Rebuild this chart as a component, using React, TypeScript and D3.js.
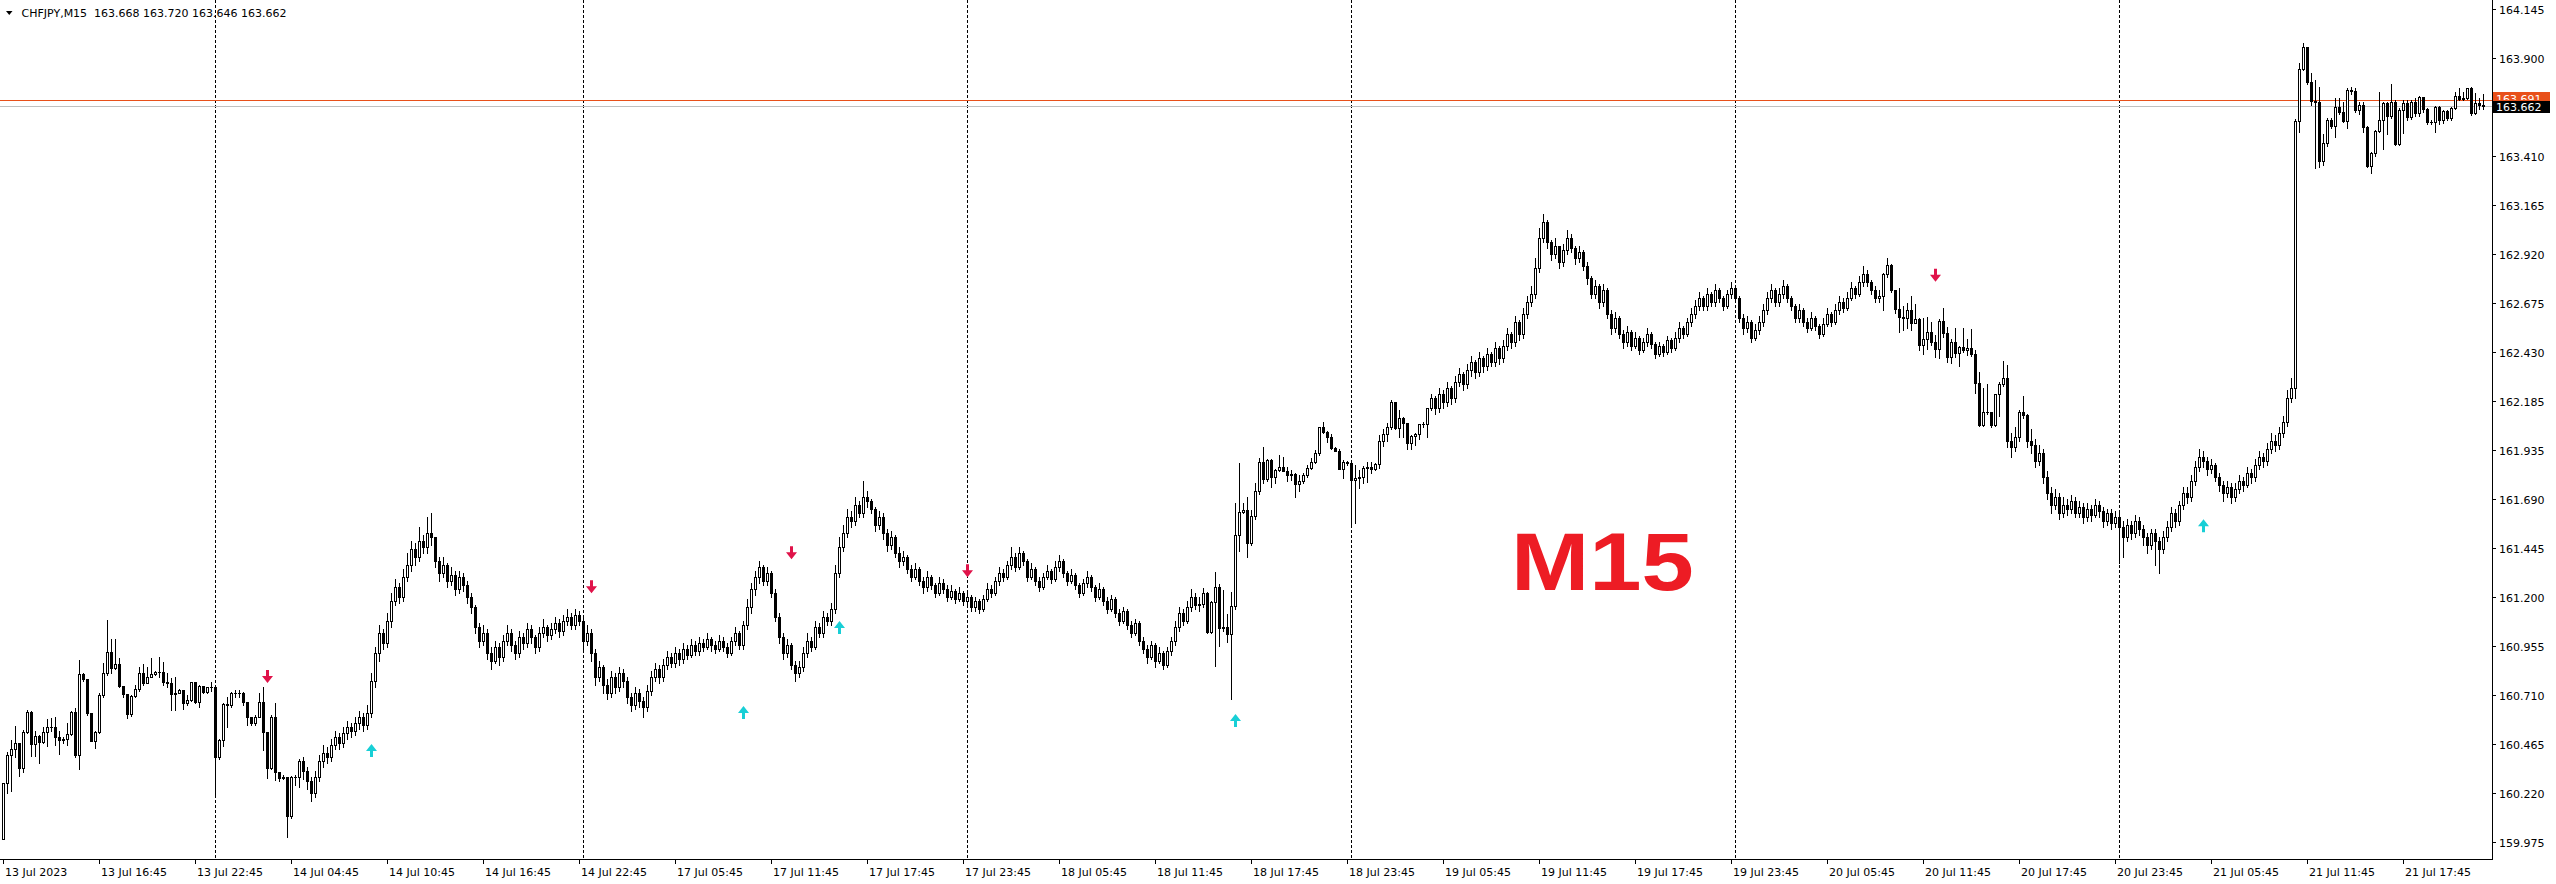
import React from "react";
import * as d3 from "d3";

const W = 2556;
const H = 884;
const PLOT_RIGHT = 2492;
const AXIS_Y = 859;

const SYMBOL = "CHFJPY,M15";
const HEADER_OHLC = ["163.668", "163.720", "163.646", "163.662"];
const WATERMARK = "M15";
const ASK = 163.691;
const BID = 163.662;

// Forex candles: each open equals the previous close
const FIRST_OPEN = 159.99;

const closes = [
  160.27, 160.409, 160.437, 160.467, 160.342, 160.523, 160.624, 160.462, 160.504, 160.476,
  160.526, 160.548, 160.551, 160.501, 160.484, 160.487, 160.513, 160.623, 160.407, 160.813,
  160.788, 160.618, 160.477, 160.526, 160.71, 160.818, 160.927, 160.843, 160.863, 160.755,
  160.713, 160.614, 160.706, 160.738, 160.818, 160.771, 160.801, 160.813, 160.823, 160.826,
  160.776, 160.768, 160.713, 160.721, 160.735, 160.668, 160.685, 160.773, 160.676, 160.755,
  160.726, 160.748, 160.748, 160.401, 160.484, 160.663, 160.66, 160.721, 160.721, 160.721,
  160.676, 160.6, 160.568, 160.6, 160.676, 160.523, 160.345, 160.6, 160.322, 160.292,
  160.3, 160.105, 160.3, 160.3, 160.38, 160.33, 160.28, 160.22, 160.30, 160.38,
  160.42, 160.40, 160.46, 160.50, 160.47, 160.52, 160.55, 160.53, 160.57, 160.60,
  160.56, 160.62, 160.78, 160.92, 161.02, 160.97, 161.08, 161.18, 161.25, 161.20,
  161.30, 161.36, 161.44, 161.40, 161.48, 161.45, 161.52, 161.50, 161.38, 161.32,
  161.36, 161.28, 161.31, 161.24, 161.30, 161.26, 161.20, 161.15, 161.05, 160.98,
  161.02, 160.92, 160.88, 160.95, 160.90, 160.98, 161.02, 160.96, 160.92, 161.00,
  160.97, 161.04, 161.00, 160.95, 161.02, 161.05, 161.01, 161.04, 161.07, 161.03,
  161.08, 161.10, 161.06, 161.11, 161.08, 160.98, 161.02, 160.92, 160.80, 160.85,
  160.76, 160.72, 160.80, 160.75, 160.82, 160.78, 160.70, 160.66, 160.72, 160.68,
  160.65, 160.73, 160.80, 160.84, 160.80, 160.86, 160.90, 160.87, 160.92, 160.89,
  160.94, 160.91, 160.96, 160.93, 160.97, 160.95, 160.99, 160.96, 160.94, 160.98,
  160.95, 160.92, 160.98, 161.02, 160.96, 161.06, 161.15, 161.24, 161.30, 161.35,
  161.28, 161.32, 161.22, 161.10, 161.00, 160.92, 160.96, 160.86, 160.82, 160.85,
  160.92, 160.98, 160.95, 161.05, 161.02, 161.10, 161.08, 161.14, 161.32, 161.45,
  161.52, 161.60, 161.58, 161.66, 161.62, 161.70, 161.68, 161.64, 161.56, 161.60,
  161.52, 161.46, 161.50, 161.42, 161.38, 161.40, 161.34, 161.30, 161.34, 161.28,
  161.25, 161.30, 161.26, 161.22, 161.27, 161.24, 161.20, 161.23, 161.19, 161.22,
  161.18, 161.20, 161.15, 161.18, 161.14, 161.19, 161.24, 161.22, 161.28, 161.32,
  161.30, 161.36, 161.40, 161.35, 161.42, 161.38, 161.30, 161.34, 161.28, 161.25,
  161.30, 161.33, 161.29, 161.35, 161.38, 161.32, 161.28, 161.31, 161.26, 161.22,
  161.27, 161.30, 161.25, 161.20, 161.24, 161.18, 161.14, 161.19, 161.12, 161.08,
  161.13, 161.06, 161.02, 161.07, 160.98, 160.94, 160.90, 160.96, 160.88, 160.92,
  160.86, 160.93, 160.98, 161.05, 161.12, 161.08, 161.15, 161.20, 161.16, 161.165,
  161.219, 161.027, 161.177, 161.249, 161.047, 161.052, 161.013, 161.157, 161.511, 161.625,
  161.636, 161.47, 161.606, 161.732, 161.875, 161.79, 161.887, 161.803, 161.837, 161.854,
  161.834, 161.812, 161.817, 161.765, 161.782, 161.812, 161.845, 161.875, 161.92, 162.05,
  162.029, 162.004, 161.949, 161.934, 161.842, 161.875, 161.874, 161.787, 161.798, 161.803,
  161.845, 161.853, 161.84, 161.867, 161.984, 162.015, 162.05, 162.179, 162.046, 162.096,
  162.071, 161.974, 162.007, 162.015, 162.067, 162.07, 162.146, 162.20, 162.15, 162.22,
  162.18, 162.25, 162.20, 162.28, 162.32, 162.27, 162.34, 162.38, 162.33, 162.40,
  162.36, 162.42, 162.38, 162.45, 162.40, 162.46, 162.52, 162.48, 162.58, 162.52,
  162.62, 162.68, 162.72, 162.85, 163.00, 163.08, 162.98, 162.92, 162.96, 162.88,
  162.94, 163.00, 162.95, 162.90, 162.93, 162.86, 162.80, 162.72, 162.76, 162.68,
  162.74, 162.62, 162.55, 162.60, 162.52, 162.48, 162.53, 162.46, 162.50, 162.44,
  162.48, 162.52, 162.47, 162.42, 162.46, 162.43, 162.49, 162.45, 162.50, 162.55,
  162.52, 162.58, 162.62, 162.66, 162.70, 162.66, 162.72, 162.68, 162.74, 162.70,
  162.66, 162.72, 162.75, 162.70, 162.60, 162.55, 162.58, 162.50, 162.54, 162.58,
  162.64, 162.70, 162.74, 162.68, 162.72, 162.76, 162.70, 162.66, 162.60, 162.64,
  162.58, 162.55, 162.60, 162.56, 162.52, 162.57, 162.62, 162.58, 162.64, 162.68,
  162.65, 162.70, 162.75, 162.72, 162.78, 162.82, 162.78, 162.74, 162.70, 162.71,
  162.819, 162.864, 162.739, 162.643, 162.605, 162.60, 162.638, 162.575, 162.592, 162.463,
  162.493, 162.528, 162.48, 162.443, 162.585, 162.522, 162.405, 162.477, 162.421, 162.451,
  162.438, 162.446, 162.416, 162.274, 162.062, 162.129, 162.13, 162.062, 162.216, 162.268,
  162.296, 161.98, 161.95, 162.00, 162.129, 162.112, 161.98, 161.96, 161.88, 161.92,
  161.80, 161.72, 161.66, 161.70, 161.62, 161.66, 161.64, 161.68, 161.62, 161.65,
  161.60, 161.64, 161.61, 161.66, 161.63, 161.58, 161.62, 161.57, 161.60, 161.55,
  161.50, 161.56, 161.52, 161.58, 161.54, 161.50, 161.46, 161.52, 161.48, 161.44,
  161.50, 161.55, 161.62, 161.58, 161.66, 161.72, 161.70, 161.78, 161.85, 161.90,
  161.88, 161.84, 161.86, 161.80, 161.76, 161.72, 161.75, 161.70, 161.74, 161.78,
  161.76, 161.82, 161.80, 161.86, 161.90, 161.88, 161.94, 161.98, 161.96, 162.02,
  162.08, 162.20, 162.25, 163.587, 163.844, 163.954, 163.782, 163.687, 163.682, 163.387,
  163.474, 163.59, 163.56, 163.657, 163.632, 163.587, 163.74, 163.735, 163.64, 163.665,
  163.553, 163.36, 163.423, 163.537, 163.59, 163.674, 163.61, 163.682, 163.47, 163.64,
  163.674, 163.607, 163.682, 163.623, 163.707, 163.645, 163.582, 163.582, 163.654, 163.59,
  163.637, 163.6, 163.65, 163.71, 163.697, 163.699, 163.749, 163.624, 163.677, 163.668,
  163.662,
];

const highs = [
  160.27, 160.426, 160.484, 160.554, 160.47, 160.534, 160.634, 160.629, 160.529, 160.509,
  160.551, 160.589, 160.593, 160.598, 160.529, 160.50, 160.571, 160.629, 160.643, 160.885,
  160.821, 160.79, 160.62, 160.53, 160.72, 160.872, 161.085, 160.988, 160.988, 160.893,
  160.755, 160.713, 160.71, 160.76, 160.852, 160.865, 160.852, 160.893, 160.83, 160.898,
  160.877, 160.821, 160.793, 160.801, 160.74, 160.735, 160.71, 160.776, 160.773, 160.76,
  160.755, 160.751, 160.776, 160.751, 160.49, 160.668, 160.701, 160.726, 160.735, 160.735,
  160.723, 160.676, 160.6, 160.61, 160.721, 160.751, 160.523, 160.609, 160.668, 160.322,
  160.31, 160.3, 160.305, 160.31, 160.39, 160.40, 160.35, 160.30, 160.33, 160.41,
  160.46, 160.45, 160.49, 160.53, 160.52, 160.55, 160.58, 160.57, 160.60, 160.63,
  160.62, 160.66, 160.82, 160.95, 161.06, 161.04, 161.12, 161.22, 161.29, 161.27,
  161.34, 161.42, 161.48, 161.47, 161.55, 161.51, 161.60, 161.62, 161.50, 161.40,
  161.40, 161.37, 161.35, 161.33, 161.33, 161.32, 161.28, 161.22, 161.16, 161.07,
  161.06, 161.04, 160.95, 160.98, 160.97, 161.01, 161.06, 161.04, 160.98, 161.03,
  161.02, 161.07, 161.06, 161.01, 161.05, 161.09, 161.06, 161.07, 161.10, 161.09,
  161.11, 161.14, 161.12, 161.14, 161.13, 161.10, 161.06, 161.04, 160.94, 160.88,
  160.86, 160.79, 160.83, 160.82, 160.85, 160.84, 160.80, 160.72, 160.75, 160.74,
  160.70, 160.76, 160.83, 160.87, 160.86, 160.89, 160.93, 160.92, 160.95, 160.94,
  160.97, 160.96, 160.99, 160.98, 161.00, 160.99, 161.02, 161.00, 160.98, 161.01,
  161.00, 160.97, 161.00, 161.05, 161.03, 161.08, 161.19, 161.27, 161.33, 161.38,
  161.36, 161.35, 161.33, 161.24, 161.12, 161.02, 160.99, 160.97, 160.88, 160.88,
  160.95, 161.02, 161.00, 161.08, 161.07, 161.13, 161.12, 161.17, 161.36, 161.50,
  161.56, 161.64, 161.63, 161.70, 161.68, 161.78, 161.73, 161.69, 161.65, 161.63,
  161.62, 161.54, 161.53, 161.51, 161.45, 161.43, 161.41, 161.36, 161.37, 161.35,
  161.30, 161.33, 161.31, 161.27, 161.30, 161.29, 161.26, 161.26, 161.24, 161.25,
  161.23, 161.23, 161.21, 161.20, 161.19, 161.21, 161.27, 161.26, 161.30, 161.35,
  161.34, 161.38, 161.45, 161.42, 161.45, 161.43, 161.39, 161.37, 161.35, 161.30,
  161.32, 161.36, 161.34, 161.38, 161.41, 161.39, 161.33, 161.34, 161.32, 161.27,
  161.29, 161.33, 161.31, 161.26, 161.27, 161.25, 161.20, 161.21, 161.20, 161.14,
  161.15, 161.14, 161.08, 161.09, 161.08, 161.00, 160.96, 160.98, 160.97, 160.95,
  160.93, 160.95, 161.00, 161.08, 161.15, 161.14, 161.18, 161.24, 161.22, 161.20,
  161.244, 161.227, 161.18, 161.324, 161.266, 161.236, 161.115, 161.224, 161.67, 161.87,
  161.67, 161.70, 161.636, 161.77, 161.895, 161.95, 161.89, 161.89, 161.84, 161.912,
  161.90, 161.854, 161.837, 161.82, 161.812, 161.82, 161.862, 161.895, 161.937, 162.05,
  162.076, 162.03, 162.015, 161.954, 161.94, 161.887, 161.884, 161.88, 161.862, 161.837,
  161.858, 161.875, 161.875, 161.87, 162.012, 162.041, 162.071, 162.19, 162.18, 162.138,
  162.104, 162.075, 162.01, 162.02, 162.07, 162.08, 162.15, 162.22, 162.21, 162.25,
  162.24, 162.28, 162.26, 162.31, 162.35, 162.33, 162.37, 162.41, 162.39, 162.43,
  162.41, 162.45, 162.43, 162.48, 162.46, 162.49, 162.55, 162.53, 162.61, 162.59,
  162.65, 162.71, 162.76, 162.90, 163.05, 163.12, 163.09, 162.99, 163.00, 162.96,
  162.97, 163.04, 163.02, 162.96, 162.96, 162.94, 162.88, 162.81, 162.79, 162.77,
  162.77, 162.75, 162.64, 162.63, 162.61, 162.54, 162.56, 162.54, 162.53, 162.51,
  162.50, 162.55, 162.53, 162.48, 162.48, 162.47, 162.51, 162.50, 162.53, 162.58,
  162.56, 162.60, 162.65, 162.69, 162.73, 162.71, 162.75, 162.73, 162.77, 162.75,
  162.71, 162.74, 162.78, 162.76, 162.71, 162.62, 162.61, 162.59, 162.57, 162.61,
  162.67, 162.73, 162.77, 162.75, 162.75, 162.79, 162.77, 162.71, 162.67, 162.67,
  162.65, 162.60, 162.63, 162.61, 162.57, 162.60, 162.65, 162.63, 162.67, 162.71,
  162.70, 162.73, 162.78, 162.76, 162.81, 162.86, 162.84, 162.79, 162.76, 162.74,
  162.826, 162.897, 162.87, 162.74, 162.747, 162.658, 162.672, 162.709, 162.669, 162.60,
  162.60, 162.602, 162.578, 162.513, 162.593, 162.647, 162.555, 162.493, 162.546, 162.46,
  162.547, 162.492, 162.542, 162.438, 162.326, 162.246, 162.27, 162.13, 162.22, 162.276,
  162.383, 162.363, 162.02, 162.05, 162.14, 162.207, 162.12, 162.04, 161.99, 161.96,
  161.94, 161.83, 161.75, 161.74, 161.72, 161.70, 161.69, 161.71, 161.70, 161.68,
  161.67, 161.67, 161.66, 161.69, 161.68, 161.65, 161.64, 161.64, 161.63, 161.62,
  161.58, 161.59, 161.58, 161.61, 161.60, 161.56, 161.52, 161.54, 161.54, 161.50,
  161.53, 161.58, 161.65, 161.64, 161.68, 161.75, 161.75, 161.81, 161.88, 161.94,
  161.93, 161.90, 161.89, 161.87, 161.82, 161.78, 161.78, 161.77, 161.77, 161.81,
  161.80, 161.85, 161.84, 161.89, 161.93, 161.92, 161.97, 162.02, 162.01, 162.05,
  162.11, 162.24, 162.30, 163.594, 163.874, 163.975, 163.958, 163.824, 163.791, 163.754,
  163.52, 163.60, 163.60, 163.699, 163.699, 163.682, 163.749, 163.757, 163.749, 163.68,
  163.68, 163.56, 163.43, 163.54, 163.732, 163.68, 163.68, 163.771, 163.69, 163.65,
  163.69, 163.69, 163.69, 163.699, 163.71, 163.699, 163.65, 163.59, 163.66, 163.66,
  163.64, 163.64, 163.655, 163.732, 163.749, 163.732, 163.75, 163.754, 163.724, 163.699,
  163.72,
];

const lows = [
  159.99, 160.22, 160.23, 160.40, 160.305, 160.325, 160.52, 160.404, 160.404, 160.367,
  160.47, 160.456, 160.53, 160.459, 160.412, 160.47, 160.459, 160.51, 160.40, 160.337,
  160.78, 160.61, 160.477, 160.442, 160.52, 160.70, 160.81, 160.82, 160.84, 160.751,
  160.70, 160.593, 160.606, 160.70, 160.73, 160.76, 160.77, 160.80, 160.81, 160.80,
  160.76, 160.75, 160.634, 160.634, 160.72, 160.64, 160.66, 160.68, 160.67, 160.648,
  160.72, 160.72, 160.73, 160.20, 160.39, 160.456, 160.551, 160.65, 160.70, 160.70,
  160.66, 160.559, 160.56, 160.56, 160.60, 160.434, 160.292, 160.34, 160.284, 160.28,
  160.29, 160.0, 160.092, 160.26, 160.25, 160.29, 160.24, 160.18, 160.20, 160.28,
  160.35, 160.37, 160.38, 160.44, 160.44, 160.45, 160.49, 160.50, 160.51, 160.54,
  160.53, 160.54, 160.60, 160.75, 160.88, 160.94, 160.95, 161.05, 161.16, 161.17,
  161.18, 161.28, 161.33, 161.36, 161.38, 161.42, 161.42, 161.46, 161.35, 161.28,
  161.30, 161.25, 161.26, 161.21, 161.22, 161.23, 161.17, 161.12, 161.02, 160.95,
  160.96, 160.89, 160.84, 160.87, 160.86, 160.88, 160.96, 160.93, 160.89, 160.90,
  160.94, 160.95, 160.97, 160.92, 160.93, 161.00, 160.98, 160.99, 161.02, 161.00,
  161.01, 161.06, 161.04, 161.04, 161.06, 160.94, 160.96, 160.88, 160.76, 160.78,
  160.72, 160.69, 160.70, 160.72, 160.73, 160.75, 160.67, 160.63, 160.64, 160.65,
  160.60, 160.63, 160.71, 160.78, 160.77, 160.78, 160.84, 160.85, 160.85, 160.86,
  160.87, 160.89, 160.90, 160.91, 160.91, 160.93, 160.94, 160.93, 160.92, 160.93,
  160.93, 160.90, 160.91, 160.96, 160.94, 160.94, 161.04, 161.12, 161.21, 161.27,
  161.26, 161.26, 161.20, 161.08, 160.97, 160.89, 160.90, 160.84, 160.78, 160.80,
  160.83, 160.90, 160.93, 160.94, 161.00, 161.00, 161.06, 161.06, 161.12, 161.30,
  161.43, 161.50, 161.55, 161.56, 161.60, 161.60, 161.65, 161.62, 161.53, 161.54,
  161.49, 161.43, 161.44, 161.40, 161.35, 161.36, 161.32, 161.28, 161.29, 161.26,
  161.22, 161.23, 161.24, 161.20, 161.21, 161.22, 161.18, 161.19, 161.17, 161.18,
  161.16, 161.16, 161.13, 161.13, 161.12, 161.13, 161.18, 161.20, 161.21, 161.26,
  161.28, 161.29, 161.34, 161.33, 161.34, 161.36, 161.28, 161.29, 161.26, 161.23,
  161.24, 161.29, 161.27, 161.28, 161.33, 161.30, 161.26, 161.27, 161.24, 161.20,
  161.21, 161.25, 161.23, 161.18, 161.19, 161.16, 161.12, 161.13, 161.10, 161.06,
  161.07, 161.04, 161.00, 161.01, 160.96, 160.92, 160.87, 160.89, 160.85, 160.87,
  160.84, 160.85, 160.91, 160.96, 161.03, 161.06, 161.07, 161.13, 161.14, 161.13,
  161.149, 161.022, 161.02, 160.857, 160.957, 161.032, 160.977, 160.688, 161.139, 161.433,
  161.62, 161.40, 161.46, 161.59, 161.717, 161.773, 161.78, 161.753, 161.773, 161.83,
  161.83, 161.783, 161.787, 161.703, 161.733, 161.77, 161.80, 161.84, 161.87, 161.91,
  162.02, 161.979, 161.94, 161.93, 161.84, 161.798, 161.86, 161.553, 161.573, 161.748,
  161.77, 161.778, 161.823, 161.835, 161.845, 161.959, 161.984, 162.04, 162.04, 162.0,
  162.004, 161.94, 161.94, 161.96, 161.99, 162.05, 162.0, 162.14, 162.12, 162.13,
  162.15, 162.16, 162.17, 162.18, 162.26, 162.24, 162.25, 162.31, 162.30, 162.31,
  162.33, 162.34, 162.36, 162.36, 162.37, 162.38, 162.44, 162.45, 162.46, 162.49,
  162.50, 162.60, 162.66, 162.70, 162.83, 162.98, 162.95, 162.89, 162.90, 162.85,
  162.86, 162.92, 162.93, 162.87, 162.88, 162.84, 162.77, 162.70, 162.70, 162.65,
  162.66, 162.60, 162.52, 162.53, 162.50, 162.45, 162.46, 162.44, 162.45, 162.42,
  162.43, 162.46, 162.45, 162.40, 162.41, 162.41, 162.42, 162.43, 162.44, 162.48,
  162.50, 162.51, 162.56, 162.60, 162.64, 162.64, 162.64, 162.66, 162.66, 162.68,
  162.64, 162.65, 162.70, 162.68, 162.58, 162.52, 162.53, 162.48, 162.49, 162.52,
  162.56, 162.62, 162.68, 162.66, 162.66, 162.70, 162.68, 162.64, 162.58, 162.58,
  162.56, 162.53, 162.54, 162.54, 162.50, 162.51, 162.56, 162.56, 162.57, 162.62,
  162.63, 162.64, 162.69, 162.70, 162.71, 162.76, 162.76, 162.72, 162.68, 162.68,
  162.639, 162.806, 162.73, 162.622, 162.53, 162.538, 162.547, 162.538, 162.58, 162.438,
  162.418, 162.443, 162.463, 162.401, 162.40, 162.502, 162.38, 162.371, 162.405, 162.36,
  162.43, 162.413, 162.41, 162.224, 162.057, 162.06, 162.12, 162.054, 162.06, 162.109,
  162.26, 161.95, 161.90, 161.93, 161.98, 162.10, 161.95, 161.92, 161.85, 161.86,
  161.77, 161.69, 161.62, 161.64, 161.59, 161.60, 161.61, 161.62, 161.60, 161.60,
  161.57, 161.58, 161.58, 161.60, 161.60, 161.55, 161.56, 161.54, 161.55, 161.37,
  161.40, 161.48, 161.49, 161.50, 161.51, 161.46, 161.42, 161.44, 161.36, 161.32,
  161.42, 161.48, 161.53, 161.55, 161.56, 161.64, 161.67, 161.68, 161.76, 161.83,
  161.85, 161.81, 161.82, 161.78, 161.73, 161.68, 161.70, 161.67, 161.68, 161.72,
  161.73, 161.75, 161.77, 161.78, 161.84, 161.85, 161.86, 161.92, 161.93, 161.94,
  162.00, 162.06, 162.18, 162.20, 163.532, 163.84, 163.77, 163.666, 163.348, 163.357,
  163.365, 163.46, 163.55, 163.503, 163.62, 163.58, 163.549, 163.72, 163.63, 163.62,
  163.532, 163.357, 163.323, 163.41, 163.53, 163.445, 163.52, 163.6, 163.465, 163.465,
  163.527, 163.59, 163.594, 163.61, 163.61, 163.63, 163.57, 163.57, 163.532, 163.57,
  163.577, 163.59, 163.59, 163.645, 163.69, 163.69, 163.695, 163.616, 163.62, 163.644,
  163.646,
];

const yTickLabels = [
  "164.145", "163.900", "163.655", "163.410", "163.165", "162.920", "162.675", "162.430", "162.185",
  "161.935", "161.690", "161.445", "161.200", "160.955", "160.710", "160.465", "160.220", "159.975",
];

const xTickBars = [0, 24, 48, 72, 96, 120, 144, 168, 192, 216, 240, 264, 288, 312, 336, 360, 384, 408, 432, 456, 480, 504, 528, 552, 576, 600];
const xTickLabels = [
  "13 Jul 2023", "13 Jul 16:45", "13 Jul 22:45", "14 Jul 04:45", "14 Jul 10:45", "14 Jul 16:45", "14 Jul 22:45",
  "17 Jul 05:45", "17 Jul 11:45", "17 Jul 17:45", "17 Jul 23:45", "18 Jul 05:45", "18 Jul 11:45", "18 Jul 17:45",
  "18 Jul 23:45", "19 Jul 05:45", "19 Jul 11:45", "19 Jul 17:45", "19 Jul 23:45", "20 Jul 05:45", "20 Jul 11:45",
  "20 Jul 17:45", "20 Jul 23:45", "21 Jul 05:45", "21 Jul 11:45", "21 Jul 17:45",
];

const daySeparatorBars = [53, 145, 241, 337, 433, 529];

const sellArrowBars = [66, 147, 197, 241, 483];
const sellArrowPrices = [160.80, 161.25, 161.42, 161.33, 162.81];
const buyArrowBars = [92, 185, 209, 308, 550];
const buyArrowPrices = [160.435, 160.625, 161.05, 160.585, 161.56];

const FONT = "'DejaVu Sans', Verdana, sans-serif";

export default function App() {
  const n = closes.length;
  const x = d3.scaleLinear().domain([0, n - 1]).range([3.5, 3.5 + 4 * (n - 1)]);
  const y = d3.scaleLinear().domain([159.975, 164.145]).range([841.7, 9.3]);

  const candles = closes.map((c, i) => {
    const o = i === 0 ? FIRST_OPEN : closes[i - 1];
    const hi = Math.max(highs[i], o, c);
    const lo = Math.min(lows[i], o, c);
    const cx = x(i);
    const yH = Math.round(y(hi));
    const yL = Math.round(y(lo));
    const yT = Math.round(y(Math.max(o, c)));
    const yB = Math.round(y(Math.min(o, c)));
    const bull = c > o;
    return (
      <g key={i}>
        <line x1={cx} x2={cx} y1={yH} y2={yL + 1} stroke="#000" strokeWidth={1} />
        {bull && yB - yT >= 2 ? (
          <rect x={cx - 1} y={yT + 0.5} width={2} height={yB - yT} fill="#fff" stroke="#000" strokeWidth={1} />
        ) : (
          <rect x={cx - 1.5} y={yT} width={3} height={Math.max(1, yB - yT + 1)} fill="#000" />
        )}
      </g>
    );
  });

  const downArrow = (cx: number, cy: number) =>
    `M${cx - 1.5},${cy - 7}H${cx + 1.5}V${cy - 1}H${cx + 5.5}L${cx},${cy + 6}L${cx - 5.5},${cy - 1}H${cx - 1.5}Z`;
  const upArrow = (cx: number, cy: number) =>
    `M${cx - 1.5},${cy + 7}H${cx + 1.5}V${cy + 1}H${cx + 5.5}L${cx},${cy - 6}L${cx - 5.5},${cy + 1}H${cx - 1.5}Z`;

  const askY = Math.round(y(ASK));
  const bidY = Math.round(y(BID));

  return (
    <svg
      width={W}
      height={H}
      style={{ position: "absolute", left: 0, top: 0, background: "#fff" }}
      fontFamily={FONT}
    >
      <defs>
        <clipPath id="askClip">
          <rect x={2493} y={askY - 8} width={60} height={8} />
        </clipPath>
      </defs>
      <rect x={0} y={0} width={W} height={H} fill="#fff" />
      {/* day separators */}
      {daySeparatorBars.map((b) => (
        <line key={b} x1={x(b)} x2={x(b)} y1={0} y2={AXIS_Y} stroke="#000" strokeWidth={1} strokeDasharray="3,2" />
      ))}
      {/* ask / bid lines */}
      <line x1={0} x2={PLOT_RIGHT} y1={bidY + 0.5} y2={bidY + 0.5} stroke="#c0c0c0" strokeWidth={1} />
      <line x1={0} x2={PLOT_RIGHT} y1={askY + 0.5} y2={askY + 0.5} stroke="#e8501a" strokeWidth={1} />
      <g shapeRendering="crispEdges">{candles}</g>
      {/* arrows */}
      {sellArrowBars.map((b, k) => (
        <path key={"s" + b} d={downArrow(x(b), y(sellArrowPrices[k]))} fill="#e0134a" />
      ))}
      {buyArrowBars.map((b, k) => (
        <path key={"b" + b} d={upArrow(x(b), y(buyArrowPrices[k]))} fill="#18cfd6" />
      ))}
      {/* watermark */}
      <text
        transform="translate(1511,590) scale(1.16,1)"
        fontFamily="'Liberation Sans', Arial, sans-serif"
        fontWeight="bold"
        fontSize={81}
        fill="#ED1C24"
      >
        {WATERMARK}
      </text>
      {/* axes */}
      <g shapeRendering="crispEdges">
        <line x1={PLOT_RIGHT + 0.5} x2={PLOT_RIGHT + 0.5} y1={0} y2={AXIS_Y + 1} stroke="#000" />
        <line x1={0} x2={PLOT_RIGHT + 1} y1={AXIS_Y + 0.5} y2={AXIS_Y + 0.5} stroke="#000" />
        {yTickLabels.map((t) => {
          const ty = Math.round(y(+t)) + 0.5;
          return <line key={t} x1={PLOT_RIGHT} x2={PLOT_RIGHT + 4} y1={ty} y2={ty} stroke="#000" />;
        })}
        {xTickBars.map((b) => (
          <line key={b} x1={x(b)} x2={x(b)} y1={AXIS_Y} y2={AXIS_Y + 5} stroke="#000" />
        ))}
      </g>
      {yTickLabels
        .filter((t) => Math.abs(+t - BID) > 0.03)
        .map((t) => (
          <text key={t} x={2499} y={Math.round(y(+t)) + 4.5} fontSize={11} fill="#000">
            {t}
          </text>
        ))}
      {xTickBars.map((b, k) => (
        <text key={b} x={x(b) + 1.5} y={876} fontSize={11} fill="#000">
          {xTickLabels[k]}
        </text>
      ))}
      {/* price labels: ask label partly hidden under bid label */}
      <rect x={2493} y={askY - 8} width={57} height={13} fill="#e8501a" />
      <g clipPath="url(#askClip)">
        <text x={2496} y={askY + 3} fontSize={11} fill="#fff">{ASK.toFixed(3)}</text>
      </g>
      <rect x={2493} y={bidY - 5} width={57} height={12} fill="#000" />
      <text x={2496} y={bidY + 5} fontSize={11} fill="#fff">{BID.toFixed(3)}</text>
      {/* header */}
      <path d="M6,11H12.5L9.25,15Z" fill="#000" />
      <text x={21.5} y={17} fontSize={11} fill="#000" style={{ whiteSpace: "pre" }}>
        {`${SYMBOL}  ${HEADER_OHLC.join(" ")}`}
      </text>
    </svg>
  );
}
